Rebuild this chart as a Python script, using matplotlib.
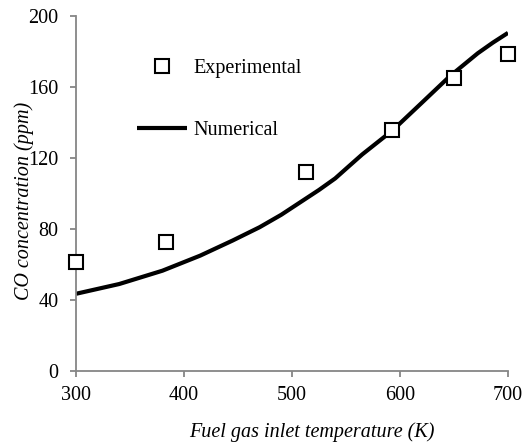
import numpy as np
import matplotlib
matplotlib.use('Agg')
import matplotlib.pyplot as plt

plt.rcParams['font.family'] = ['Liberation Serif', 'DejaVu Serif']
plt.rcParams['font.size'] = 14.5

# experimental points
exp_x = [300, 383, 513, 593, 650, 700]
exp_y = [61.5, 72.5, 112, 135.5, 165, 178.5]

# numerical curve
num_x = [300, 340, 380, 415, 445, 470, 490, 510, 525, 540, 552, 565, 593, 620, 646, 660, 672, 686, 700]
num_y = [43.5, 49, 56.5, 65, 73.5, 81, 88, 96, 102, 108.5, 115, 122, 135.5, 151, 166, 173, 179, 185, 190.5]

xticks = [300, 400, 500, 600, 700]
yticks = [0, 40, 80, 120, 160, 200]

fig = plt.figure(figsize=(5.29, 4.45), dpi=100)
ax = fig.add_axes([76/529, 1 - 371/445, 432/529, 355/445])

ax.plot(num_x, num_y, color='black', lw=3, solid_joinstyle='round', solid_capstyle='butt',
        label='Numerical', zorder=2)
ax.plot(exp_x, exp_y, ls='none', marker='s', ms=10, mfc='white', mec='black', mew=1.5,
        label='Experimental', zorder=3, clip_on=False)

ax.set_xlim(300, 700)
ax.set_ylim(0, 200)
ax.set_xticks(xticks)
ax.set_yticks(yticks)

for s in ['top', 'right']:
    ax.spines[s].set_visible(False)
for s in ['left', 'bottom']:
    ax.spines[s].set_color('#868686')
    ax.spines[s].set_linewidth(1.3)
ax.tick_params(direction='out', length=4, width=1.3, color='#868686', labelcolor='black')
ax.tick_params(axis='y', pad=8.5)
ax.tick_params(axis='x', pad=7)

ax.set_xlabel('Fuel gas inlet temperature (K)', style='italic')
ax.set_ylabel('CO concentration (ppm)', style='italic')
ax.xaxis.set_label_coords((312 - 76) / 432, -(422 - 371) / 355)
ax.yaxis.set_label_coords((34 - 76) / 432, 0.48)

h, l = ax.get_legend_handles_labels()
ax.legend(h[::-1], l[::-1], loc='upper left', bbox_to_anchor=(0.118, 0.907), frameon=False,
          handlelength=2.5, handletextpad=0.3, labelspacing=2.1, borderpad=0)

fig.savefig('out.png', dpi=100)
